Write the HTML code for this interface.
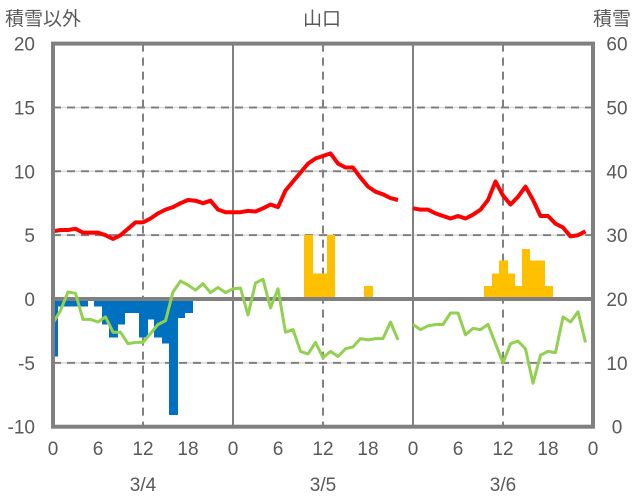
<!DOCTYPE html>
<html><head><meta charset="utf-8"><style>
body{margin:0;background:#fff;}
svg{display:block;font-family:"Liberation Sans","Noto Sans CJK JP",sans-serif;}
</style></head><body>
<svg id="chart" width="636" height="501" viewBox="0 0 636 501">
<text x="5" y="25" font-size="19" fill="#595959">積雪以外</text>
<text x="322" y="25" font-size="19" fill="#595959" text-anchor="middle">山口</text>
<text x="631" y="25" font-size="19" fill="#595959" text-anchor="end">積雪</text>
<g id="grid"></g><g id="marks"></g><g id="labels"></g>
</svg>
<script>
const leftTicks=[20,15,10,5,0,-5,-10];
const rightTicks=[60,50,40,30,20,10,0];
const hourTicks=["0","6","12","18","0","6","12","18","0","6","12","18","0"];
const dates=["3/4","3/5","3/6"];
const redSeries=[5.3,5.4,5.4,5.5,5.2,5.2,5.2,5.0,4.7,5.0,5.5,6.0,6.0,6.3,6.7,7.0,7.2,7.5,7.75,7.7,7.5,7.7,7.0,6.8,
6.8,6.8,6.9,6.85,7.1,7.4,7.2,8.5,9.2,9.9,10.6,11.0,11.2,11.4,10.6,10.3,10.3,9.5,8.8,8.4,8.2,7.9,7.75,null,
7.1,7.0,7.0,6.7,6.5,6.3,6.5,6.3,6.6,7.0,7.75,9.2,8.1,7.4,8.0,8.8,7.75,6.5,6.5,5.9,5.6,4.9,5.0,5.3];
const greenSeries=[-1.9,-0.9,0.55,0.45,-1.6,-1.6,-1.8,-1.4,-2.6,-2.6,-3.5,-3.4,-3.4,-2.7,-2.0,-1.7,0.55,1.4,1.1,0.7,1.2,0.5,0.9,0.5,
0.8,0.85,-1.25,1.25,1.55,-0.7,0.8,-2.6,-2.4,-4.1,-4.3,-3.4,-4.6,-4.1,-4.5,-3.9,-3.75,-3.1,-3.2,-3.1,-3.1,-1.8,-3.2,null,
-2.0,-2.4,-2.1,-2.0,-2.0,-1.1,-1.1,-2.8,-2.3,-2.4,-2.0,-3.5,-5.0,-3.5,-3.3,-3.9,-6.6,-4.4,-4.1,-4.2,-1.4,-1.8,-1.0,-3.4];
const blueBars=[-4.5,-0.6,-0.6,-0.6,-0.6,0,-0.6,-2.0,-3.0,-2.0,-1.1,-1.1,-3.0,-1.6,-3.0,-3.5,-9.1,-1.5,-1.1];
const orangeHours=[34,35,36,37,42,58,59,60,61,62,63,64,65,66];
const orangeBars=[5,2,2,5,1,1,2,3,2,1,3.9,3,3,1];
const snowDepth=[0,0,0];
const NS="http://www.w3.org/2000/svg";
const X0=53,PX_H=7.5,Y0=299,PX_U=12.77;
const xs=h=>X0+h*PX_H;
const ys=v=>Y0-v*PX_U;
const yr=v=>ys(v/2-10);
function mk(tag,attrs,parent){const e=document.createElementNS(NS,tag);for(const k in attrs)e.setAttribute(k,attrs[k]);parent.appendChild(e);return e;}
const grid=document.getElementById('grid'),marks=document.getElementById('marks'),labels=document.getElementById('labels');
const L=xs(0),R=xs(72),T=ys(20),B=ys(-10);
leftTicks.forEach(v=>{
  if(v!==0&&v!==20&&v!==-10){
    let g=mk('line',{x1:L,x2:R,y1:ys(v),y2:ys(v),stroke:'#d9d9d9','stroke-width':1.5},grid);
    
    g=mk('line',{x1:L,x2:R,y1:ys(v),y2:ys(v),stroke:'#808080','stroke-width':2,'stroke-dasharray':'8,6'},grid);
    
  }
  const t=mk('text',{x:35,y:ys(v)+7,'font-size':19,fill:'#595959','text-anchor':'end'},labels);t.textContent=v;
  
});
rightTicks.forEach(v=>{
  const t=mk('text',{x:617,y:yr(v)+7,'font-size':19,fill:'#595959','text-anchor':'middle'},labels);t.textContent=v;
  
});
hourTicks.forEach((s,i)=>{
  const h=i*6,x=xs(h);
  if(h%24===12){
    const g=mk('line',{x1:x,x2:x,y1:T,y2:B,stroke:'#808080','stroke-width':2,'stroke-dasharray':'8,6'},grid);
    
  } else if(h%24===0&&h>0&&h<72){
    const g=mk('line',{x1:x,x2:x,y1:T,y2:B,stroke:'#808080','stroke-width':2},grid);
    
  }
  const t=mk('text',{x:x,y:455,'font-size':19,fill:'#595959','text-anchor':'middle'},labels);t.textContent=s;
  
});
dates.forEach((d,i)=>{
  const t=mk('text',{x:xs(i*24+12),y:491,'font-size':19,fill:'#595959','text-anchor':'middle'},labels);t.textContent=d;
  
});
blueBars.forEach((v,h)=>{
  if(!v)return;
  const x1=Math.round(Math.max(L,xs(h-0.5))),x2=Math.round(xs(h+0.5))+1;
  const r=mk('rect',{x:x1,y:ys(0),width:x2-x1,height:ys(v)-ys(0),fill:'#0070c0','shape-rendering':'crispEdges'},marks);
  
});
orangeBars.forEach((v,i)=>{
  const h=orangeHours[i];
  const x1=Math.round(xs(h-0.5)),x2=Math.round(xs(h+0.5))+1;
  const r=mk('rect',{x:x1,y:ys(v),width:x2-x1,height:ys(0)-ys(v),fill:'#ffc000','shape-rendering':'crispEdges'},marks);
  
});
let z=mk('line',{x1:L,x2:R,y1:ys(0),y2:ys(0),stroke:'#808080','stroke-width':4},marks);

function pathOf(arr){let d='',pen=false;arr.forEach((v,h)=>{if(v===null){pen=false;return;}d+=(pen?'L':'M')+xs(h).toFixed(1)+','+ys(v).toFixed(1);pen=true;});return d;}
let p=mk('path',{d:pathOf(greenSeries),fill:'none',stroke:'#92d050','stroke-width':3,'stroke-linejoin':'round'},marks);

p=mk('path',{d:pathOf(redSeries),fill:'none',stroke:'#ff0000','stroke-width':4,'stroke-linejoin':'round'},marks);

snowDepth.forEach((v,i)=>{
  const x1=xs(i*24),x2=i===1?xs(46.5):xs(i*24+24);
  const l=mk('line',{x1:x1,x2:x2,y1:yr(v),y2:yr(v),stroke:'#7030a0','stroke-width':3},marks);
  
});
const f=mk('rect',{x:L,y:T,width:R-L,height:B-T,fill:'none',stroke:'#808080','stroke-width':4},marks);

</script>
</body></html>
